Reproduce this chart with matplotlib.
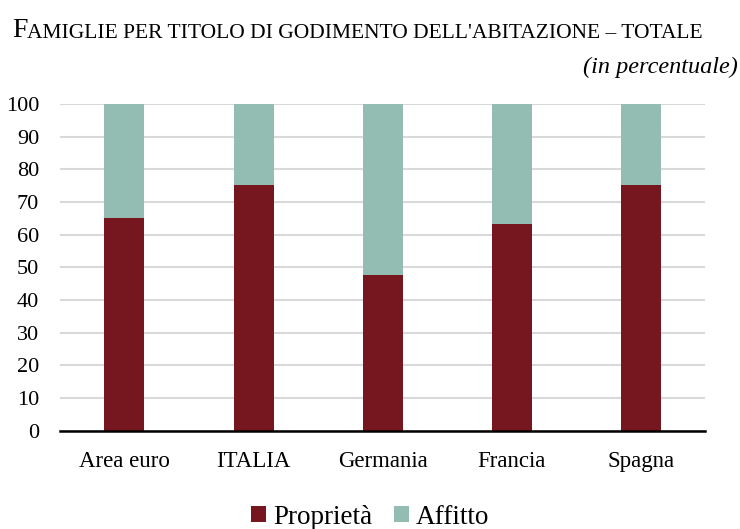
import matplotlib.pyplot as plt
import numpy as np

paesi = ['Area euro', 'ITALIA', 'Germania', 'Francia', 'Spagna']
proprieta = [65.2, 75.2, 47.6, 63.3, 75.3]
affitto = [100 - v for v in proprieta]

rosso = '#76161e'
verde = '#93bdb3'

plt.rcParams['font.family'] = ['Liberation Serif', 'DejaVu Serif']

fig = plt.figure(figsize=(7.4, 5.29), dpi=100)
ax = fig.add_axes([0.081, 0.186, 0.872, 0.617])

x = np.arange(len(paesi))
ax.bar(x, proprieta, width=0.31, color=rosso, label='Proprietà', zorder=3)
ax.bar(x, affitto, width=0.31, bottom=proprieta, color=verde, label='Affitto', zorder=3)

ax.set_xlim(-0.5, 4.5)
ax.set_ylim(0, 100)
ax.set_yticks(range(0, 101, 10))
ax.set_xticks(x)
ax.set_xticklabels(paesi)
ax.tick_params(axis='both', length=0)
ax.tick_params(axis='y', pad=15, labelsize=16)
ax.tick_params(axis='x', pad=15, labelsize=16.5)
ax.grid(axis='y', color='#d9d9d9', linewidth=1.5, zorder=0)
for s in ['top', 'right', 'left']:
    ax.spines[s].set_visible(False)
ax.spines['bottom'].set_linewidth(1.8)
ax.spines['bottom'].set_zorder(4)

# titolo in maiuscoletto
t0 = fig.text(0.016, 0.930, 'F', fontsize=20, va='baseline', ha='left')
ax.annotate("AMIGLIE PER TITOLO DI GODIMENTO DELL'ABITAZIONE – TOTALE",
            xy=(1, 0), xycoords=t0, fontsize=15.5, va='bottom', ha='left',
            annotation_clip=False)
fig.text(0.997, 0.862, '(in percentuale)', fontsize=17.5, style='italic',
         ha='right', va='baseline')

fig.legend(loc='center', bbox_to_anchor=(0.5, 0.022), ncol=2, frameon=False,
           fontsize=19.5, handlelength=0.55, handleheight=0.55, handletextpad=0.25,
           columnspacing=0.8, borderaxespad=0)

fig.savefig('out.png', dpi=100)
